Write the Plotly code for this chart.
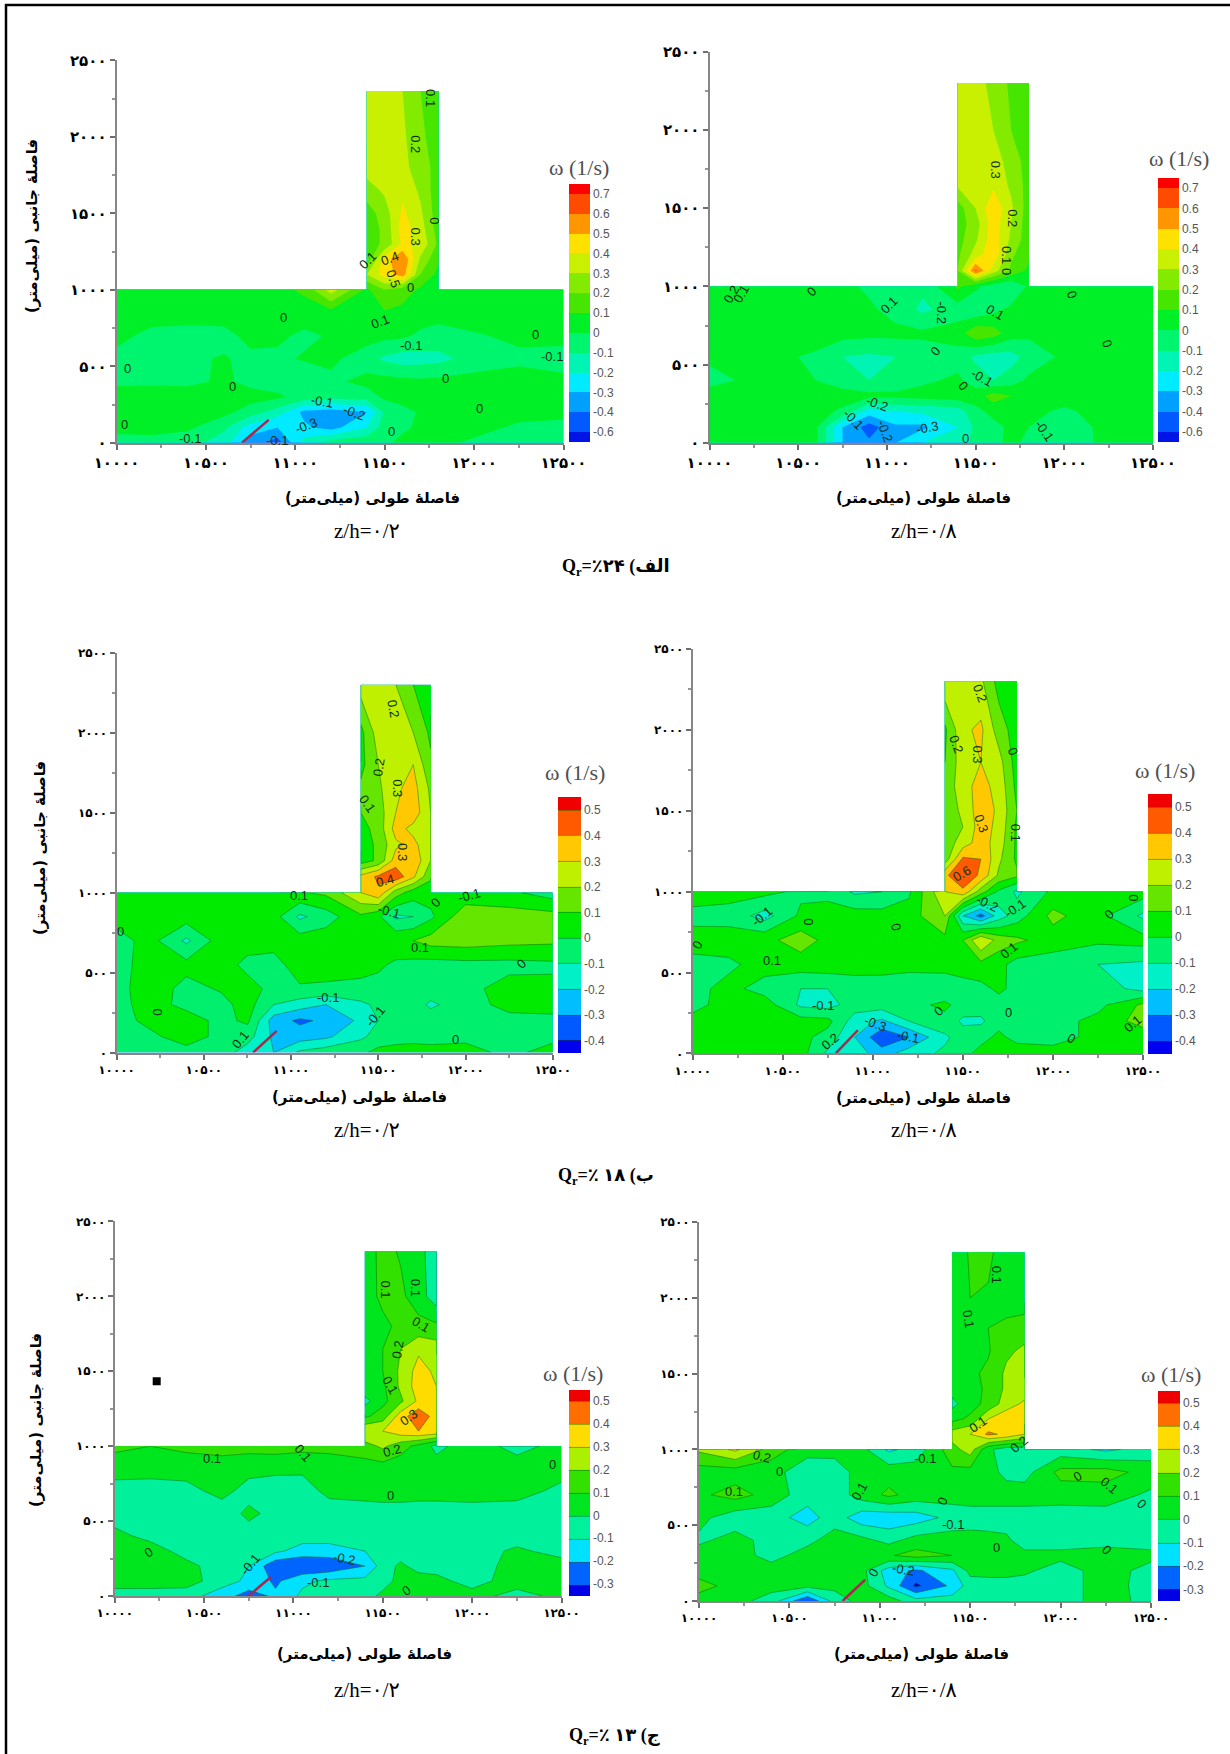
import numpy as np
import plotly.graph_objects as go

W, H = 1230, 1754
MAIN_X = [10000,10200,10400,10600,10750,10900,11050,11200,11400,11500,11600,11700,11800,12000,12250,12500]
MAIN_Y = [0,100,200,300,400,550,700,850,1000]
BRANCH_X = [11400,11500,11600,11700,11800]
BRANCH_Y = [1100,1200,1300,1400,1500,1650,1800,2000,2300]

X_TICKS = [10000,10500,11000,11500,12000,12500]
X_TICK_TEXT = ['۱۰۰۰۰','۱۰۵۰۰','۱۱۰۰۰','۱۱۵۰۰','۱۲۰۰۰','۱۲۵۰۰']
Y_TICKS = [0,500,1000,1500,2000,2500]
Y_TICK_TEXT = ['۰','۵۰۰','۱۰۰۰','۱۵۰۰','۲۰۰۰','۲۵۰۰']

main_1 = [
 [-.04,-.04,-.06,-.15,-.35,-.45,-.15,-.05,-.02,-.02,.03,.03,.03,-.02,-.04,-.04],
 [.03,.04,.02,-.08,-.25,-.3,-.28,-.34,-.2,-.05,-.02,.02,.03,.04,-.02,-.03],
 [.06,.07,.06,.03,-.05,-.15,-.33,-.35,-.3,-.08,-.03,.01,.03,.05,.04,.03],
 [.05,.06,.07,.06,.04,.02,-.04,-.07,-.05,.02,.04,.05,.06,.06,.05,.05],
 [-.02,-.02,-.03,.02,-.03,-.05,-.08,-.02,.03,.04,.03,.02,.03,.04,.04,.03],
 [-.03,-.03,-.02,.01,-.03,-.02,.01,.02,-.05,-.12,-.15,-.14,-.13,-.06,-.02,-.05],
 [.03,-.03,-.04,-.04,.04,.02,-.02,.01,.04,.03,.02,-.02,-.04,-.01,.02,.04],
 [.04,.05,.05,.06,.07,.06,.05,.06,.08,.09,.07,.05,.04,.05,.04,.04],
 [.05,.06,.06,.06,.06,.07,.12,.35,.08,.2,.15,.08,.05,.04,.04,.04]]
branch_1 = [
 [.3,.45,.55,.2,.07],[.12,.45,.6,.28,.12],[.15,.22,.42,.38,.18],[.15,.22,.45,.35,.15],
 [.15,.25,.42,.32,.14],[.25,.32,.38,.28,.14],[.35,.36,.33,.25,.16],[.35,.38,.32,.22,.15],[.35,.38,.3,.2,.14]]

main_2 = [
 [.04,.04,.05,.02,-.3,-.38,-.3,-.2,-.18,-.05,-.02,.02,-.02,-.06,.03,.04],
 [.06,.06,.05,.02,-.3,-.45,-.32,-.32,-.2,-.08,-.03,.02,.0,-.07,.04,.05],
 [.07,.08,.06,.04,-.02,-.25,-.2,-.18,-.15,-.03,.03,.06,.03,-.02,.05,.06],
 [.07,.08,.07,.06,.05,.03,.03,.04,.06,.05,.15,.1,.06,.05,.06,.06],
 [-.05,.02,.03,.0,-.06,-.1,-.08,-.02,.02,-.05,-.1,-.05,.02,.04,.04,.04],
 [.03,.03,.02,-.02,-.1,-.12,-.1,-.05,-.04,-.12,-.15,-.14,-.06,.02,.02,.03],
 [.04,.05,.05,.06,.04,.03,.03,.02,.05,.18,.15,.05,.02,.03,.04,.05],
 [.05,.05,.05,.04,.03,.02,-.04,-.12,-.05,-.08,-.03,.03,.06,.05,.05,.05],
 [.05,.05,.04,.04,.03,-.02,-.05,-.08,.12,.02,-.05,-.1,.02,.05,.05,.05]]
branch_2 = [
 [.2,.62,.35,.18,.08],[.18,.35,.48,.22,.12],[.16,.28,.46,.28,.14],[.15,.25,.46,.3,.14],
 [.15,.3,.48,.32,.15],[.32,.38,.38,.28,.16],[.35,.38,.36,.25,.16],[.36,.36,.3,.2,.14],[.36,.34,.27,.18,.13]]

main_3 = [
 [-.02,-.03,-.04,-.05,-.15,-.2,-.08,-.04,-.02,.03,.04,.04,.03,.03,-.02,.03],
 [-.03,-.02,.05,-.03,-.06,-.22,-.25,-.22,-.12,-.06,-.04,-.03,-.03,-.02,-.03,-.02],
 [-.04,.03,.05,-.03,.02,-.25,-.32,-.28,-.18,-.1,-.06,-.04,-.04,-.04,-.03,-.02],
 [-.03,.04,-.03,-.03,.04,-.1,-.15,-.2,-.12,-.08,-.05,-.05,-.12,-.04,.03,.03],
 [-.03,.05,-.03,.01,.04,-.03,-.01,-.02,-.03,-.04,-.03,-.03,-.04,-.03,.04,.03],
 [-.04,.05,.03,.05,-.03,-.03,.04,.05,.04,.02,-.02,-.03,-.04,-.03,-.03,-.02],
 [-.03,.03,-.12,.05,.05,.03,.05,.06,.06,.07,.08,.1,.14,.15,.13,.12],
 [.03,.06,.05,.05,.05,.04,-.12,-.05,.08,.02,-.12,-.1,-.02,.17,.15,.14],
 [.05,.06,.06,.07,.07,.08,.09,.12,.3,.38,.15,.05,.04,.03,.02,-.05]]
branch_3 = [
 [.33,.42,.47,.32,.12],[.05,.12,.35,.38,.2],[.05,.12,.28,.33,.22],[.06,.14,.34,.27,.2],
 [.1,.15,.3,.36,.2],[.12,.18,.28,.34,.18],[.07,.2,.27,.3,.12],[.07,.25,.28,.2,.08],[.25,.25,.2,.1,.07]]

main_4 = [
 [.03,.05,.03,.04,-.12,-.15,-.25,-.15,-.08,-.03,.03,.04,.05,.04,.03,.05],
 [.02,.04,.05,.03,-.04,-.2,-.38,-.3,-.12,-.05,-.03,.02,-.03,-.04,.03,.04],
 [.03,.04,.05,.04,.03,-.15,-.22,-.1,-.03,-.12,-.12,-.03,-.03,-.04,.03,.14],
 [-.03,.04,.05,-.12,-.14,-.05,-.05,-.03,.02,-.04,-.05,-.04,-.05,-.04,-.03,.12],
 [-.03,.03,-.04,-.1,-.1,-.06,-.05,-.06,-.07,-.05,-.03,.02,-.03,-.05,-.04,-.14],
 [-.03,-.02,.04,.05,.06,.05,.04,.03,.04,.06,.07,.03,-.04,-.05,-.1,-.12],
 [.04,.05,.07,.15,.07,.05,.06,.07,.07,.1,.3,.16,.12,.05,.02,.04],
 [-.03,-.04,-.14,.02,.03,.05,.04,.05,.2,-.2,-.34,-.15,-.05,.13,.03,-.12],
 [.05,.04,.03,-.02,-.02,-.12,-.1,-.02,.3,.38,.15,-.02,-.12,.02,.03,.05]]
branch_4 = [
 [.38,.48,.38,.18,.12],[.14,.42,.4,.22,.08],[.14,.25,.35,.25,.08],[.12,.2,.35,.27,.08],
 [.14,.22,.36,.28,.1],[.12,.27,.33,.27,.07],[.1,.26,.3,.24,.05],[.08,.28,.32,.15,.05],[.28,.3,.22,.06,.05]]

main_5 = [
 [-.05,-.05,-.06,-.15,-.25,-.18,-.08,-.06,-.05,.03,.03,.04,.04,.04,-.04,.03],
 [.05,.05,.05,-.06,-.12,-.22,-.12,-.08,-.07,-.05,.04,.05,.03,-.04,.05,.05],
 [.05,.05,.03,-.05,-.1,-.28,-.3,-.28,-.2,-.05,.02,-.04,-.04,-.05,.04,.05],
 [.04,.05,-.04,-.05,-.06,-.08,-.14,-.14,-.1,-.06,-.05,-.05,-.05,-.05,.02,-.04],
 [.03,-.03,-.04,-.05,-.06,-.06,-.06,-.06,-.06,-.05,-.05,-.05,-.05,-.05,-.05,-.05],
 [-.05,-.05,-.05,-.07,.03,-.04,-.05,-.06,-.05,-.05,-.05,-.05,-.05,-.04,-.04,-.05],
 [-.05,-.06,-.04,.04,-.05,-.07,-.05,.03,.04,.05,.05,.04,.04,.04,.03,-.02],
 [.05,.05,.05,.06,.04,.03,.02,.06,.05,.05,.04,.05,.05,.05,.06,.03],
 [.12,.1,.12,.13,.13,.14,.13,.12,.16,.22,.14,.07,-.03,.06,-.04,.04]]
branch_5 = [
 [.3,.3,.36,.4,.38],[.08,.15,.35,.48,.35],[-.03,.07,.18,.32,.35],[.06,.08,.22,.35,.3],
 [.07,.1,.22,.34,.28],[.07,.1,.2,.28,.25],[.07,.08,.12,.13,.12],[.06,.12,.12,.05,-.06],[.05,.13,.09,.04,-.07]]

main_6 = [
 [.04,.04,-.05,-.3,-.06,.04,.05,-.06,-.05,-.05,-.05,-.05,-.05,-.05,.05,-.04],
 [.15,.05,.04,.03,.03,.04,-.12,-.32,-.18,-.05,-.05,-.05,-.05,-.05,.05,-.05],
 [.04,.05,.05,.06,.05,.03,-.15,-.22,-.12,.03,.04,.04,.02,-.05,.05,-.04],
 [.05,.05,-.04,.05,.08,.06,.09,.14,.1,.07,.06,.05,.03,.03,.05,.03],
 [-.02,.04,-.04,-.03,.05,.03,-.03,.04,.05,.05,.04,.02,-.05,-.05,-.04,-.05],
 [.03,-.06,-.06,-.14,-.05,-.16,-.17,-.15,-.07,-.06,-.06,-.05,-.05,-.06,-.05,-.05],
 [.08,.14,.06,-.06,-.06,.05,.12,.06,.05,.06,.06,.05,.05,.05,.05,-.02],
 [.05,.05,.03,-.05,-.06,.05,.06,.05,.08,.06,.04,-.03,-.04,.13,.14,.06],
 [.22,.32,.16,.03,.04,.03,-.12,-.06,.16,.25,.02,-.05,-.06,-.06,-.12,-.06]]
branch_6 = [
 [.25,.3,.42,.38,.3],[.07,.12,.3,.37,.35],[-.03,.06,.13,.25,.32],[.04,.06,.12,.22,.24],
 [.06,.08,.12,.22,.22],[.06,.07,.09,.18,.22],[.05,.08,.1,.12,.15],[.05,.1,.09,.06,.04],[.04,.11,.12,.05,.03]]

bands_top = ['rgb(0,20,230)','rgb(0,90,255)','rgb(0,160,255)','rgb(0,235,255)','rgb(0,245,180)','rgb(0,245,110)','rgb(0,240,40)','rgb(70,230,0)','rgb(130,235,0)','rgb(200,240,0)','rgb(255,225,0)','rgb(255,150,0)','rgb(255,75,0)','rgb(255,0,0)']
bands_mid = ['rgb(0,0,240)','rgb(0,90,255)','rgb(0,190,255)','rgb(0,240,200)','rgb(0,240,110)','rgb(0,235,0)','rgb(100,230,0)','rgb(190,240,0)','rgb(255,200,0)','rgb(255,90,0)','rgb(240,0,0)']
bands_low = ['rgb(0,0,230)','rgb(0,100,255)','rgb(0,225,255)','rgb(0,240,155)','rgb(0,230,30)','rgb(50,225,0)','rgb(170,240,0)','rgb(255,220,0)','rgb(255,110,0)','rgb(240,0,0)']

labels_top = ['-0.6','-0.4','-0.3','-0.2','-0.1','0','0.1','0.2','0.3','0.4','0.5','0.6','0.7']
labels_mid = ['-0.4','-0.3','-0.2','-0.1','0','0.1','0.2','0.3','0.4','0.5']
labels_low = ['-0.3','-0.2','-0.1','0','0.1','0.2','0.3','0.4','0.5']

labels_1 = [(11759,2253,'0.1',90),(11675,1951,'0.2',90),(11670,1347,'0.3',90),(11781,1448,'0',90),(11405,1190,'0.1',-45),(11527,1202,'0.4',-20),(11549,1076,'0.5',70),(11642,1013,'0',0),(11476,795,'0.1',-20),(10936,820,'0',0),(11648,633,'-0.1',0),(12345,711,'0',0),(12434,561,'-0.1',0),(11841,421,'0',0),(12029,227,'0',0),(11538,77,'0',0),(10646,367,'0',0),(10060,484,'0',0),(10044,121,'0',0),(10409,29,'-0.1',0),(10896,17,'-0.1',0),(11150,271,'-0.1',10),(11327,198,'-0.2',20),(11062,114,'-0.3',-20)]
labels_2 = [(11612,1743,'0.3',90),(11711,1436,'0.2',90),(11678,1199,'0.1',90),(11678,1097,'0',90),(12044,951,'0',70),(12243,636,'0',70),(11305,833,'-0.2',90),(11612,833,'0.1',30),(11009,880,'0.1',-45),(10575,967,'0',-45),(10121,951,'0.2',-60),(10175,951,'0.1',-60),(11272,584,'0',-50),(11535,419,'-0.1',30),(11430,367,'0',50),(10943,253,'-0.2',20),(10811,147,'-0.1',45),(10987,76,'-0.2',70),(11228,99,'-0.3',-10),(11443,28,'0',0),(11886,76,'-0.1',55)]
labels_3 = [(11587,2153,'0.2',80),(11503,1782,'0.2',-80),(11609,1651,'0.3',90),(11435,1555,'0.1',55),(11639,1256,'0.3',90),(11541,1077,'0.4',-15),(11043,981,'0.1',0),(11564,885,'-0.1',15),(11829,938,'0',-45),(12017,981,'-0.1',-15),(10023,754,'0',0),(11741,658,'0.1',0),(12323,555,'0',-45),(11213,342,'-0.1',0),(11480,227,'-0.1',-50),(10233,256,'0',90),(10709,84,'0.1',-50),(11945,84,'0',0)]
labels_4 = [(11593,2228,'0.2',70),(11464,1909,'0.2',70),(11582,1850,'0.3',90),(11781,1869,'0',70),(11604,1424,'0.3',70),(11794,1365,'0.1',90),(11496,1109,'0.6',-30),(11636,927,'-0.2',25),(11788,896,'-0.1',-35),(12446,963,'0',90),(12312,856,'0',-45),(11129,785,'0',80),(10643,814,'0',90),(10024,667,'0',-60),(10384,844,'-0.1',-40),(10438,572,'0.1',0),(11755,636,'0.1',-40),(10723,296,'-0.1',0),(11362,260,'0',-40),(11751,253,'0',0),(12446,182,'0.1',-40),(12105,95,'0',30),(10762,76,'0.2',-40),(11010,182,'-0.3',20),(11194,106,'-0.1',10)]
labels_5 = [(11516,2048,'0.1',90),(11681,2056,'0.1',90),(11715,1812,'0.1',30),(11582,1648,'0.2',-80),(11538,1409,'0.1',60),(11644,1189,'0.3',-35),(11553,974,'0.2',-15),(11051,957,'0.1',50),(10542,916,'0.1',0),(12451,876,'0',0),(11544,671,'0',0),(10188,291,'0',-30),(10757,212,'-0.1',-50),(11283,249,'-0.2',10),(11139,90,'-0.1',0),(11633,34,'0',-30)]
labels_6 = [(11646,2155,'0.1',90),(11493,1860,'0.1',80),(11543,1164,'0.1',-35),(11768,1034,'0.2',-40),(11252,942,'-0.1',0),(10349,954,'0.2',15),(10445,857,'0',0),(10194,725,'0.1',0),(10886,725,'0.1',-60),(12091,821,'0',-30),(12270,761,'0.1',40),(12446,640,'0',45),(11345,657,'0',-70),(11403,507,'-0.1',0),(11644,355,'0',0),(12253,338,'0',45),(11130,205,'-0.2',10),(10966,186,'0',-60)]

def px_x(v): return v / W
def px_y(v): return 1 - v / H

panels = [
 dict(m=main_1,b=branch_1,box=(116.6,563.5,442.8,60.3),cb=(568.6,590,442,183.8),ti=(579,168),pal=bands_top,lab=labels_top,start=-.5,end=.7,tx=labels_1,jet=(10701,10851,0,150),lines=False,xt=(372,498),zh=(367,531),zt='z/h=۰/۲',fs=15),
 dict(m=main_2,b=branch_2,box=(709.5,1153,442.8,51.8),cb=(1158,1179.4,442,177.6),ti=(1179,159),pal=bands_top,lab=labels_top,start=-.5,end=.7,tx=labels_2,jet=None,lines=False,xt=(923,498),zh=(924,531),zt='z/h=۰/۸',fs=15),
 dict(m=main_3,b=branch_3,box=(116.6,552.8,1052.6,652.7),cb=(558.3,581,1053.4,797.4),ti=(575,772.5),pal=bands_mid,lab=labels_mid,start=-.4,end=.5,tx=labels_3,jet=(10782,10918,0,136),lines=True,xt=(359,1097),zh=(367,1130),zt='z/h=۰/۲',fs=12),
 dict(m=main_4,b=branch_4,box=(692.7,1143,1053.4,648.9),cb=(1148,1172,1053.8,794.3),ti=(1165,770),pal=bands_mid,lab=labels_mid,start=-.4,end=.5,tx=labels_4,jet=(10794,10917,0,143),lines=True,xt=(923,1098),zh=(924,1130),zt='z/h=۰/۸',fs=12),
 dict(m=main_5,b=branch_5,box=(114.7,561.5,1596,1221.4),cb=(568.6,590,1595.5,1389.8),ti=(573,1373),pal=bands_low,lab=labels_low,start=-.3,end=.5,tx=labels_5,jet=(10748,10874,0,127),lines=True,xt=(364,1654),zh=(367,1690),zt='z/h=۰/۲',fs=12),
 dict(m=main_6,b=branch_6,box=(699,1151,1601,1222),cb=(1158,1180,1601,1391),ti=(1171,1374),pal=bands_low,lab=labels_low,start=-.3,end=.5,tx=labels_6,jet=(10794,10919,0,140),lines=True,xt=(921,1654),zh=(924,1690),zt='z/h=۰/۸',fs=12),
]

def build(main, branch):
    xs = list(MAIN_X)
    i0 = xs.index(11400); i1 = xs.index(11800)
    X = xs[:i0] + [11399.5] + xs[i0:i1+1] + [11800.5] + xs[i1+1:]
    Y = MAIN_Y + [1000.5] + BRANCH_Y
    Z = []
    for r in main:
        Z.append(r[:i0] + [r[i0]] + r[i0:i1+1] + [r[i1]] + r[i1+1:])
    nan = float('nan')
    blank_l = [nan] * (i0 + 1); blank_r = [nan] * (len(xs) - i1)
    Z.append(blank_l + main[-1][i0:i1+1] + blank_r)
    for r in branch:
        Z.append(blank_l + list(r) + blank_r)
    return X, Y, Z

fig = go.Figure()
ann = []
BOLD = 'DejaVu Sans'
SERIF = 'Liberation Serif, DejaVu Sans'
RLM = '\u200f'
XTITLE = RLM + 'فاصلهٔ طولی (میلی‌متر)' + RLM
YTITLE = RLM + 'فاصلهٔ جانبی (میلی‌متر)' + RLM

def page_text(px, py, text, font, angle=0):
    ann.append(dict(x=px / W, y=px_y(py), xref='paper', yref='paper', text=text, textangle=angle, showarrow=False,
                    xanchor='center', yanchor='middle', font=font))

for k, p in enumerate(panels):
    n = k + 1
    xa = 'x' if n == 1 else f'x{n}'
    ya = 'y' if n == 1 else f'y{n}'
    l, r, bt, tp = p['box']
    axis = dict(showgrid=False, zeroline=False, showline=True, linecolor='rgb(135,135,135)', linewidth=2,
                ticks='outside', ticklen=5, tickcolor='rgb(110,110,110)', tickwidth=1.5,
                tickfont=dict(family=BOLD, size=p['fs'], color='black', weight='bold'),
                minor=dict(dtick=250, ticks='outside', ticklen=3, tickcolor='rgb(150,150,150)'))
    fig.update_layout({
        ('xaxis' if n == 1 else f'xaxis{n}'): dict(axis, domain=[px_x(l), px_x(r)], range=[10000, 12500], anchor=ya,
             tickvals=X_TICKS, ticktext=X_TICK_TEXT),
        ('yaxis' if n == 1 else f'yaxis{n}'): dict(axis, domain=[px_y(bt), px_y(tp)], range=[0, 2500], anchor=xa,
             tickvals=Y_TICKS, ticktext=Y_TICK_TEXT),
    })
    X, Y, Z = build(p['m'], p['b'])
    pal = p['pal']; m = len(pal) - 1
    step = 0.1
    levels = [round(p['start'] + i * step, 2) for i in range(len(p['lab']))]
    cl, cr, cb, ct = p['cb']
    fig.add_trace(go.Contour(
        x=X, y=Y, z=Z, xaxis=xa, yaxis=ya, connectgaps=False, hoverinfo='skip',
        autocontour=False, contours=dict(start=p['start'], end=p['end'], size=step, coloring='fill', showlines=p['lines']),
        line=dict(color='rgba(0,90,0,0.55)', width=0.8 if p['lines'] else 0, smoothing=0),
        colorscale=[[i / m, c] for i, c in enumerate(pal)],
        zauto=False, zmin=p['start'] - step / 2, zmax=p['end'] + step / 2,
        colorbar=dict(x=px_x(cl), xanchor='left', xpad=0, ypad=0, y=px_y(cb), yanchor='bottom',
                      len=(cb - ct) / H, lenmode='fraction', thickness=cr - cl, thicknessmode='pixels',
                      outlinewidth=0, ticks='', tickvals=levels, ticktext=p['lab'],
                      tickfont=dict(family='Liberation Sans', size=12, color='rgb(85,85,85)')),
    ))
    if p['jet']:
        x0, x1, y0, y1 = p['jet']
        fig.add_trace(go.Scatter(x=[x0, x1], y=[y0, y1], mode='lines', xaxis=xa, yaxis=ya, hoverinfo='skip',
                                 line=dict(color='rgb(170,40,80)', width=2.5), showlegend=False))
    for x, y, t, ang in p['tx']:
        ann.append(dict(x=x, y=y, xref=xa, yref=ya, text=t, textangle=ang, showarrow=False,
                        xanchor='center', yanchor='middle',
                        font=dict(family='Liberation Sans', size=13, color='rgb(15,50,20)')))
    page_text(p['ti'][0], p['ti'][1], 'ω (1/s)', dict(family='Liberation Serif', size=22, color='rgb(80,80,80)'))
    page_text(p['xt'][0], p['xt'][1], '<b>' + XTITLE + '</b>', dict(family=BOLD, size=15, color='black'))
    page_text(p['zh'][0], p['zh'][1], p['zt'], dict(family=SERIF, size=21, color='black'))

for px, py in [(32, 226), (40, 848), (36, 1420)]:
    page_text(px, py, '<b>' + YTITLE + '</b>', dict(family=BOLD, size=15, color='black'), angle=-90)

for txt, px, py in [('Q<sub>r</sub>=٪۲۴ (الف', 616, 567), ('Q<sub>r</sub>=٪ ۱۸ (ب', 606, 1176), ('Q<sub>r</sub>=٪ ۱۳ (ج', 614, 1736)]:
    page_text(px, py, '<b>' + txt + '</b>', dict(family=SERIF, size=18, color='black'))

# stray black square in the lower-left panel
fig.add_trace(go.Scatter(x=[10235], y=[1433], mode='markers', xaxis='x5', yaxis='y5', hoverinfo='skip', showlegend=False,
                         marker=dict(symbol='square', size=8, color='black')))

fig.update_layout(
    width=W, height=H, margin=dict(l=0, r=0, t=0, b=0, autoexpand=False), paper_bgcolor='white', plot_bgcolor='white',
    showlegend=False, annotations=ann,
    shapes=[
        dict(type='line', xref='paper', yref='paper', x0=6 / W, x1=6 / W, y0=0, y1=px_y(4), line=dict(color='black', width=2.5)),
        dict(type='line', xref='paper', yref='paper', x0=5 / W, x1=1, y0=px_y(5), y1=px_y(5), line=dict(color='black', width=2.5)),
    ],
)
fig.write_html('out.html', config={'displayModeBar': False},
               post_script="document.body.style.margin='0';document.body.style.overflow='hidden';")
